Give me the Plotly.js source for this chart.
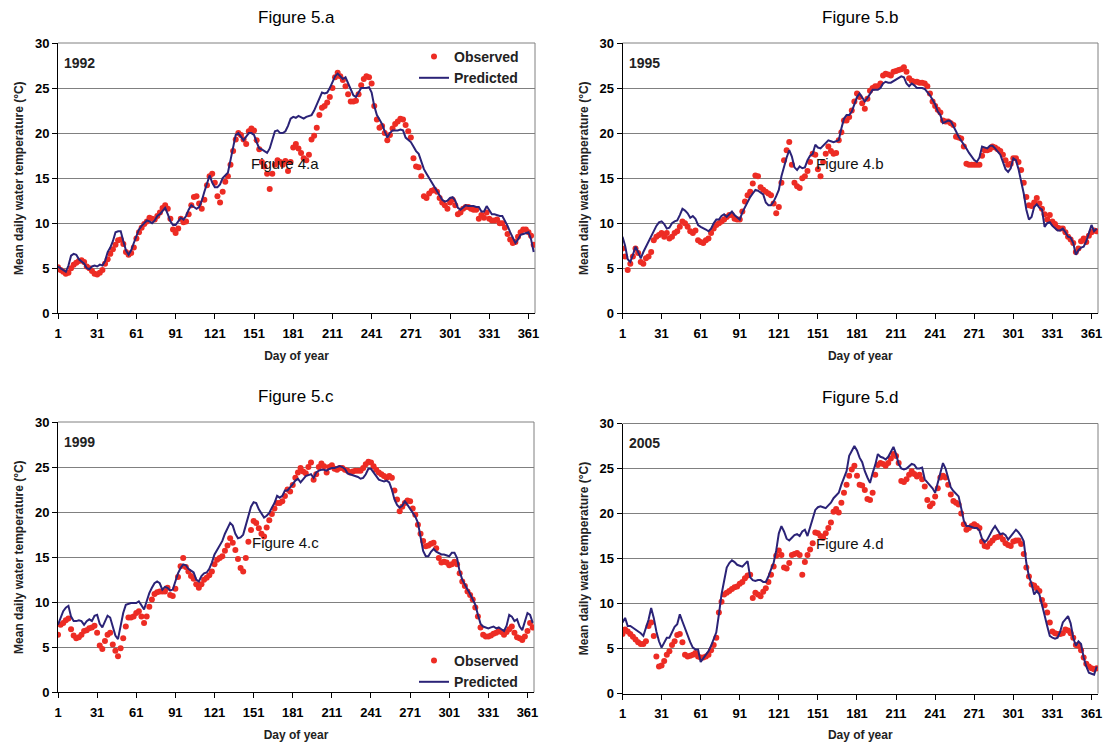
<!DOCTYPE html>
<html>
<head>
<meta charset="utf-8">
<script src="https://cdn.plot.ly/plotly-3.0.1.min.js"></script>
<style>html,body{margin:0;padding:0;background:#fff;}#chart{width:1104px;height:742px;}</style>
</head>
<body>
<div id="chart"></div>
<script>
// Day of year (every second day)
const days = [1,3,5,7,9,11,13,15,17,19,21,23,25,27,29,31,33,35,37,39,41,43,45,47,49,51,53,55,57,59,61,63,65,67,69,71,73,75,77,79,81,83,85,87,89,91,93,95,97,99,101,103,105,107,109,111,113,115,117,119,121,123,125,127,129,131,133,135,137,139,141,143,145,147,149,151,153,155,157,159,161,163,165,167,169,171,173,175,177,179,181,183,185,187,189,191,193,195,197,199,201,203,205,207,209,211,213,215,217,219,221,223,225,227,229,231,233,235,237,239,241,243,245,247,249,251,253,255,257,259,261,263,265,267,269,271,273,275,277,279,281,283,285,287,289,291,293,295,297,299,301,303,305,307,309,311,313,315,317,319,321,323,325,327,329,331,333,335,337,339,341,343,345,347,349,351,353,355,357,359,361,363,365];

const xTickVals = [1,31,61,91,121,151,181,211,241,271,301,331,361];
const yTickVals = [0,5,10,15,20,25,30];

const obs1992 = [
5.1,4.8,4.6,4.4,4.5,5.0,5.4,5.6,5.8,5.9,5.7,5.2,5.0,4.7,4.4,
4.3,4.5,4.8,5.5,6.0,6.6,7.1,7.6,8.1,8.2,7.7,6.8,6.5,6.7,7.3,
8.3,9.0,9.5,9.9,10.2,10.6,10.5,10.4,10.8,11.2,11.7,12.0,11.6,10.5,9.3,
8.9,9.4,10.5,10.1,10.2,11.0,12.0,12.9,13.0,12.2,11.6,12.6,14.2,15.2,15.5,
14.5,13.0,12.3,13.5,14.6,15.2,16.5,18.0,19.3,20.0,19.8,19.3,18.8,20.2,20.5,
20.3,19.2,18.2,16.8,16.3,15.5,13.8,15.5,16.5,17.0,16.8,16.5,16.9,15.8,16.8,
18.4,18.8,18.3,17.8,17.2,17.0,17.6,19.3,19.7,20.6,22.0,22.8,23.0,23.4,24.0,
25.0,26.2,26.7,26.3,25.9,25.2,24.3,23.5,23.5,23.6,24.3,25.3,26.0,26.3,26.2,
25.5,23.0,21.5,20.6,20.8,20.0,19.2,19.8,20.5,21.0,21.3,21.6,21.5,20.9,20.2,
19.5,17.2,16.3,16.2,15.2,13.0,12.8,13.3,13.6,13.7,13.5,12.8,12.3,12.0,11.6,
12.3,12.6,12.0,11.0,11.2,11.6,11.8,11.8,11.6,11.5,11.5,10.5,10.9,10.6,11.2,
10.5,10.3,10.3,10.4,10.0,10.0,9.5,8.8,8.2,7.8,7.9,8.5,9.0,9.3,9.3,
9.0,8.6,7.6];
const pred1992 = [
5.2,5.0,4.8,4.6,5.3,6.4,6.6,6.5,6.0,5.8,5.5,5.0,4.9,5.2,5.3,
5.2,5.4,5.3,5.8,6.8,7.3,8.0,9.0,9.1,9.1,8.0,7.0,6.5,7.0,7.8,
8.5,9.3,9.7,10.0,10.3,10.2,10.0,10.3,10.8,11.0,11.4,11.7,11.0,10.2,9.8,
9.8,10.2,10.6,10.4,10.8,11.5,12.0,11.8,11.6,11.8,12.5,13.5,14.5,15.3,14.5,
14.0,14.0,14.3,15.0,15.3,15.6,17.0,18.5,19.8,20.0,19.6,19.2,19.6,20.0,20.0,
19.8,19.0,18.3,18.2,18.0,17.8,18.3,19.3,20.2,20.3,20.0,20.0,20.2,20.8,21.6,
21.8,21.7,21.9,21.7,21.6,21.8,21.9,22.0,22.5,23.2,24.0,24.5,24.4,24.5,25.0,
25.6,26.3,26.6,26.3,26.0,26.2,25.5,24.8,24.2,24.0,24.5,25.0,25.0,25.0,25.1,
24.5,23.0,22.0,21.5,21.0,20.2,19.5,20.0,20.3,20.3,20.3,20.4,20.3,19.5,19.2,
19.0,18.5,18.0,17.7,16.8,16.0,15.5,15.0,14.5,14.0,13.5,13.0,12.6,12.4,12.5,
12.8,12.9,12.5,11.7,11.5,11.8,12.0,11.9,11.9,11.9,11.8,11.8,11.3,11.3,11.9,
11.4,11.0,11.0,10.9,10.8,10.8,10.3,9.7,9.0,8.3,7.8,8.2,8.7,8.8,8.9,
9.0,8.2,6.8];

const obs1995 = [
7.2,6.3,4.8,5.5,6.3,7.2,6.7,5.7,5.5,6.1,6.3,6.8,8.1,8.5,8.7,
8.9,8.5,8.9,8.3,8.5,8.9,9.1,9.6,10.2,10.0,9.6,9.1,8.9,9.2,8.1,
7.9,7.8,8.1,8.3,8.9,9.4,9.8,10.0,10.2,10.4,10.7,10.9,10.9,10.5,10.4,
10.4,11.3,12.4,13.1,13.5,14.4,15.3,15.2,14.0,13.7,13.5,13.3,13.1,12.2,11.1,
11.8,14.5,17.0,18.1,19.0,16.5,14.5,14.1,13.9,15.0,15.2,15.8,16.8,17.7,17.6,
16.0,15.2,16.8,17.7,18.5,18.0,17.7,17.8,19.2,20.1,21.4,21.4,21.8,22.5,23.5,
24.4,24.0,23.3,22.7,23.8,24.7,25.0,25.2,25.2,25.5,26.4,26.6,26.5,26.4,26.8,
26.9,27.0,27.1,27.3,26.8,26.1,25.8,25.7,25.7,25.6,25.6,25.5,25.2,24.4,23.5,
23.0,22.6,22.3,21.4,21.3,21.3,21.1,20.9,19.6,19.5,19.4,18.5,16.6,16.5,16.5,
16.5,16.5,16.5,17.5,18.1,18.1,18.2,18.5,18.4,18.2,18.0,17.6,17.0,16.5,16.6,
17.2,17.2,16.8,15.9,14.5,12.9,12.0,11.9,12.3,12.8,12.2,11.6,11.0,10.4,10.9,
10.2,9.9,9.5,9.4,9.4,9.0,8.5,8.2,7.8,6.8,7.2,8.0,8.3,7.9,8.6,
9.0,9.2,9.1];
const pred1995 = [
8.5,7.5,6.0,5.7,6.5,7.4,6.8,6.1,6.8,7.4,7.9,8.5,9.1,9.7,10.1,
10.2,9.9,9.4,9.5,10.0,10.2,10.3,10.9,11.6,11.4,11.1,10.6,10.8,10.5,9.8,
9.6,9.4,9.3,9.1,9.4,10.0,10.4,10.4,10.8,11.0,10.7,11.0,11.3,10.9,10.6,
10.4,11.2,11.8,12.3,12.9,13.3,13.7,13.6,13.4,13.2,12.3,12.0,12.0,12.4,13.0,
13.7,15.2,16.3,17.3,18.1,17.4,16.2,15.9,16.3,16.1,16.2,17.0,17.5,17.7,18.7,
18.4,18.3,18.6,18.8,19.2,19.1,19.0,19.1,19.2,20.5,21.6,22.0,22.0,22.4,23.3,
24.0,24.4,24.0,23.5,23.9,24.4,24.8,24.8,24.8,25.0,25.5,25.7,25.6,25.6,25.8,
25.9,26.1,26.3,26.2,25.5,25.2,25.5,25.3,25.0,25.0,25.0,24.9,24.6,24.2,23.7,
23.2,22.4,22.0,21.1,21.3,21.4,21.3,20.8,20.2,19.6,19.2,18.8,18.3,17.8,17.4,
17.0,16.8,17.3,18.5,18.4,18.3,18.6,18.6,18.3,18.0,17.6,16.8,16.0,15.7,16.1,
17.2,17.0,16.0,14.8,13.3,11.5,10.4,10.7,11.8,12.1,11.7,11.5,9.6,10.0,10.1,
9.7,9.5,9.2,9.2,9.4,9.0,8.5,8.4,7.8,6.5,7.0,7.3,7.4,8.0,8.9,
9.8,9.1,9.4];

const obs1999 = [
6.4,7.5,7.7,8.0,8.2,7.0,6.3,6.0,6.1,6.4,6.8,6.9,7.1,7.2,7.4,
6.6,5.2,4.8,5.7,6.4,6.6,5.3,4.6,4.0,4.9,6.0,7.3,8.3,8.3,8.4,
8.8,9.0,8.4,7.7,8.4,9.5,10.3,10.9,11.1,11.2,11.2,11.2,11.6,10.8,10.7,
11.5,12.8,14.0,14.9,13.9,13.4,12.9,12.6,12.0,11.6,12.0,12.5,12.7,13.0,13.4,
14.2,14.7,14.9,15.1,15.7,16.3,17.1,16.6,15.8,14.8,13.8,13.4,14.9,16.7,18.0,
19.0,18.8,18.2,17.6,17.3,18.3,19.1,19.8,20.4,21.0,21.0,21.2,21.8,22.5,22.3,
23.0,23.8,24.4,24.9,24.5,24.3,25.0,25.5,23.6,24.2,25.0,25.4,25.1,24.4,25.0,
25.2,24.8,24.7,24.9,24.9,24.7,24.6,24.4,24.5,24.6,24.6,24.6,24.9,25.3,25.6,
25.5,25.1,24.7,24.4,24.2,24.0,23.8,24.0,23.8,22.4,21.4,20.1,20.6,21.0,21.3,
21.2,20.4,19.7,18.6,17.6,16.8,16.2,16.3,16.5,16.6,16.0,14.9,14.4,14.5,14.4,
14.1,14.2,14.5,14.2,13.2,12.3,11.8,11.2,10.8,10.3,9.4,8.4,7.2,6.4,6.2,
6.2,6.3,6.5,6.6,6.8,6.7,6.4,6.7,7.0,7.3,6.6,6.1,6.0,5.8,6.2,
6.8,7.7,7.2];
const pred1999 = [
7.5,8.3,9.0,9.4,9.6,8.4,7.9,7.9,8.0,7.9,7.5,7.9,8.1,7.9,8.5,
8.6,7.6,7.2,7.9,8.5,8.3,7.3,6.3,5.9,7.5,8.8,9.7,9.8,9.9,9.9,
9.9,10.1,9.7,9.2,10.1,11.0,11.6,12.1,12.3,12.1,11.4,11.7,11.6,11.3,11.4,
12.3,13.2,13.8,14.2,14.1,13.7,13.5,13.3,12.5,12.3,12.9,13.2,13.3,13.7,14.4,
15.3,15.8,16.3,16.8,17.6,18.3,18.8,18.5,17.6,17.1,17.2,17.5,18.5,19.6,20.6,
21.1,21.0,20.3,19.8,19.4,19.6,19.9,20.5,21.0,21.8,21.6,21.8,22.4,22.4,22.7,
23.1,23.5,23.7,23.3,23.6,24.0,24.1,24.2,23.8,24.4,24.6,24.7,24.7,24.6,24.8,
24.9,24.9,25.0,25.1,25.0,24.8,24.3,24.2,24.1,24.0,23.9,23.7,23.8,24.2,24.8,
24.8,24.4,24.0,23.6,23.5,23.4,23.5,23.3,22.5,21.4,20.8,20.5,20.7,21.2,20.8,
20.4,19.9,19.5,18.8,17.1,15.7,15.1,15.1,15.6,15.9,15.6,15.4,15.3,15.3,15.2,
15.1,15.5,15.5,14.9,13.4,12.5,11.9,11.4,10.9,10.3,9.7,8.6,7.6,7.3,7.2,
7.1,7.2,7.3,7.1,7.2,7.0,6.8,7.4,8.6,8.4,7.9,8.1,7.3,6.9,7.8,
8.8,8.6,7.7];

const obs2005 = [
6.6,7.1,6.9,6.6,6.3,6.0,5.7,5.5,5.5,5.8,7.5,7.9,6.4,4.1,3.0,
3.1,3.6,4.3,4.7,5.4,5.8,6.5,6.6,5.7,4.3,4.1,4.2,4.3,4.5,4.1,
4.0,4.0,4.1,4.3,4.8,5.4,6.2,9.0,10.2,11.0,11.2,11.4,11.6,11.8,11.9,
12.2,12.4,12.8,13.1,13.2,10.6,11.2,11.0,10.8,11.3,11.7,12.4,13.2,14.1,15.3,
15.9,15.4,14.0,13.9,14.5,15.4,15.5,15.6,15.4,13.2,14.6,15.4,16.0,16.7,17.9,
17.8,17.5,17.3,17.8,18.4,19.0,20.2,20.5,20.1,21.2,22.3,23.2,24.2,24.9,25.3,
24.2,23.2,23.1,22.6,21.6,21.5,22.3,24.3,25.4,25.6,25.5,25.3,25.6,26.1,26.6,
26.4,25.6,23.6,23.5,23.8,24.3,24.7,24.4,24.1,24.3,23.8,23.0,21.5,20.8,21.1,
21.9,22.8,24.0,24.2,24.0,23.2,22.1,21.4,21.2,21.0,20.0,18.8,18.2,18.4,18.6,
18.8,18.6,18.4,16.9,16.4,16.3,16.7,17.0,17.3,17.4,17.5,17.1,16.7,16.5,16.4,
16.9,17.0,17.0,16.6,15.5,14.0,13.0,12.1,12.0,11.7,11.4,10.4,9.8,9.0,7.9,
6.9,6.7,6.6,6.6,6.7,7.1,7.0,6.7,6.2,5.4,5.3,4.8,4.0,3.3,3.0,
2.8,2.7,2.8];
const pred2005 = [
7.9,8.4,7.5,7.5,7.3,7.1,6.9,6.7,6.4,7.2,8.2,9.5,8.4,6.9,5.8,
5.1,5.7,6.2,6.2,6.8,7.4,7.7,8.8,8.0,7.2,6.6,5.7,5.1,4.9,4.9,
3.5,3.9,4.3,4.7,5.3,6.0,6.8,8.8,11.0,12.5,14.0,14.5,14.8,14.6,14.3,
14.2,14.1,14.4,14.7,12.9,12.6,12.5,12.6,12.6,12.4,12.4,13.0,13.8,14.5,15.9,
17.8,18.6,18.0,17.2,17.0,17.3,17.6,17.7,17.5,18.0,18.2,17.5,18.5,19.5,20.4,
20.7,20.8,20.7,20.6,20.9,21.2,21.7,22.0,22.3,23.2,24.0,24.7,26.4,27.0,27.5,
27.0,26.2,25.7,24.7,24.0,23.4,24.5,25.4,26.6,26.3,26.2,26.0,26.3,26.8,27.4,
26.6,25.5,25.0,24.9,25.0,25.2,25.5,25.4,25.0,25.0,25.1,23.8,23.5,23.2,22.8,
22.3,23.5,24.5,25.6,25.0,24.0,22.9,22.5,22.2,21.9,20.6,19.2,18.6,18.6,18.5,
18.4,18.4,18.1,17.2,16.8,17.1,17.7,18.2,18.6,18.1,17.7,17.8,17.6,17.1,17.5,
17.9,18.2,17.9,17.5,16.9,14.5,13.0,12.2,11.0,11.4,11.0,10.0,8.7,7.5,6.4,
6.2,6.1,6.2,6.9,7.9,8.3,8.6,7.8,6.2,5.3,5.8,5.5,4.0,3.0,2.3,
2.2,2.1,3.0];

const panels = [
  {title:'Figure 5.a', year:'1992', fig4:'Figure 4.a', obs:obs1992, pred:pred1992},
  {title:'Figure 5.b', year:'1995', fig4:'Figure 4.b', obs:obs1995, pred:pred1995},
  {title:'Figure 5.c', year:'1999', fig4:'Figure 4.c', obs:obs1999, pred:pred1999},
  {title:'Figure 5.d', year:'2005', fig4:'Figure 4.d', obs:obs2005, pred:pred2005}
];

// ---- layout geometry (pixels in a 1104 x 742 canvas) ----
const W = 1104, H = 742;
const px = v => v / W;
const py = v => 1 - v / H;
const boxes = [
  {l:58,  r:535,  t:43,    b:313.3},
  {l:622.5, r:1098, t:43,  b:313.3},
  {l:58,  r:534,  t:422,   b:692.3},
  {l:622.5, r:1098, t:423.5, b:693.5}
];

const FONT = 'Liberation Sans, Arial, sans-serif';
const RED = '#ed2c24';
const NAVY = '#2b2377';

const traces = [];
const layout = {
  width: W, height: H,
  margin: {l:0, r:0, t:0, b:0},
  paper_bgcolor: '#ffffff',
  plot_bgcolor: '#ffffff',
  font: {family: FONT, color: '#000'},
  showlegend: true,
  annotations: [],
  shapes: [],
  legend: {
    x: px(414), y: py(41), xanchor: 'left', yanchor: 'top',
    bgcolor: 'rgba(0,0,0,0)', borderwidth: 0,
    font: {family: FONT, size: 14, color: '#222', weight: 'bold'},
    itemwidth: 30, tracegroupgap: 0
  },
  legend2: {
    x: px(414), y: py(645), xanchor: 'left', yanchor: 'top',
    bgcolor: 'rgba(0,0,0,0)', borderwidth: 0,
    font: {family: FONT, size: 14, color: '#222', weight: 'bold'},
    itemwidth: 30, tracegroupgap: 0
  }
};

panels.forEach((p, i) => {
  const n = i === 0 ? '' : String(i + 1);
  const xa = 'x' + n, ya = 'y' + n;
  const box = boxes[i];
  const legendName = i === 2 ? 'legend2' : 'legend';
  const show = (i === 0 || i === 2);
  traces.push({
    type: 'scatter', mode: 'markers', name: 'Observed',
    x: days, y: p.obs, xaxis: xa, yaxis: ya,
    marker: {color: RED, size: 6, line: {width: 0}},
    showlegend: show, legend: legendName
  });
  traces.push({
    type: 'scatter', mode: 'lines', name: 'Predicted',
    x: days, y: p.pred, xaxis: xa, yaxis: ya,
    line: {color: NAVY, width: 2},
    showlegend: show, legend: legendName
  });

  layout['xaxis' + n] = {
    domain: [px(box.l), px(box.r)],
    anchor: ya,
    range: [1, 366],
    tickmode: 'array', tickvals: xTickVals, ticktext: xTickVals.map(String),
    showgrid: false, zeroline: false,
    showline: true, linecolor: '#000', linewidth: 1,
    ticks: 'outside', ticklen: 5, tickcolor: '#000', tickwidth: 1,
    ticklabelstandoff: 3,
    tickfont: {family: FONT, size: 13, color: '#000', weight: 'bold'},
    title: {text: 'Day of year', font: {family: FONT, size: 12, color: '#222', weight: 'bold'}, standoff: 11}
  };
  layout['yaxis' + n] = {
    domain: [py(box.b), py(box.t)],
    anchor: xa,
    range: [0, 30],
    tickmode: 'array', tickvals: yTickVals,
    showgrid: true, gridcolor: '#808080', gridwidth: 1,
    zeroline: false,
    showline: true, linecolor: '#000', linewidth: 1,
    ticks: 'outside', ticklen: 5, tickcolor: '#000', tickwidth: 1,
    tickfont: {family: FONT, size: 13, color: '#000', weight: 'bold'},
    title: {text: 'Mean daily water temperature (°C)', font: {family: FONT, size: 12, color: '#222', weight: 'bold'}, standoff: 8}
  };

  // plot-area border (top and right) in grey
  layout.shapes.push({type:'line', xref: xa + ' domain', yref: ya + ' domain', x0:1, x1:1, y0:0, y1:1, line:{color:'#808080', width:1}, layer:'below'});
  layout.shapes.push({type:'line', xref: xa + ' domain', yref: ya + ' domain', x0:0, x1:1, y0:1, y1:1, line:{color:'#808080', width:1}, layer:'below'});

  const cx = (box.l + box.r) / 2;
  layout.annotations.push({
    text: p.title, xref:'paper', yref:'paper', x: px(cx), y: py(box.t - 26),
    xanchor:'center', yanchor:'middle', showarrow:false,
    font:{family: FONT, size: 17, color:'#000'}
  });
  layout.annotations.push({
    text: p.year, xref:'paper', yref:'paper', x: px(box.l + 4), y: py(box.t + 20),
    xanchor:'left', yanchor:'middle', showarrow:false,
    font:{family: FONT, size: 14, color:'#222', weight:'bold'}
  });
  layout.annotations.push({
    text: p.fig4, xref:'paper', yref:'paper', x: px(box.l + 227), y: py(box.t + 120),
    xanchor:'center', yanchor:'middle', showarrow:false,
    font:{family: FONT, size: 15, color:'#111'}
  });
});

Plotly.newPlot('chart', traces, layout, {displayModeBar: false, staticPlot: true});
</script>
</body>
</html>
